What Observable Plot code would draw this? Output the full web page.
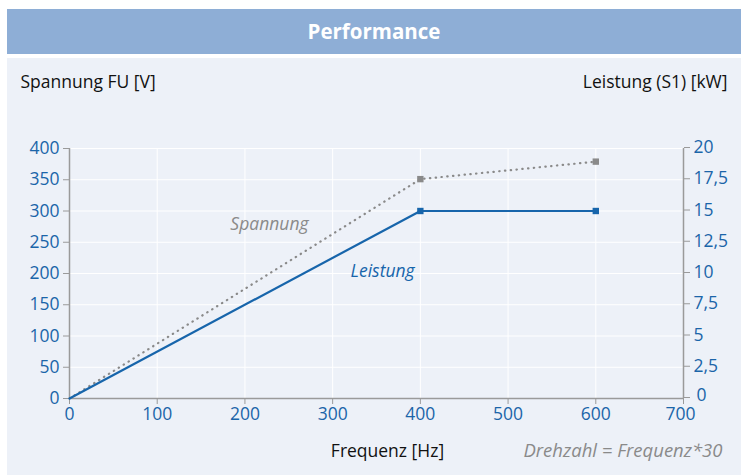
<!DOCTYPE html>
<html>
<head>
<meta charset="utf-8">
<script src="https://cdn.jsdelivr.net/npm/d3@7"></script>
<script src="https://cdn.jsdelivr.net/npm/@observablehq/plot@0.6"></script>
<style>
  html, body { margin: 0; padding: 0; background: #ffffff; width: 741px; height: 475px; overflow: hidden; }
  body { position: relative; font-family: "Open Sans", sans-serif; }
  #title { position: absolute; left: 7px; top: 9px; width: 734px; height: 45px; background: #8eaed6;
           color: #ffffff; font-weight: bold; font-size: 20.5px; line-height: 45px; text-align: center; }
  #panel { position: absolute; left: 7px; top: 58px; width: 734px; height: 417px; background: #edf1f8; }
  #panel svg { display: block; }
</style>
</head>
<body>
<div id="title">Performance</div>
<div id="panel"></div>
<script>
// Data
const frequenz = [0, 400, 600];            // Hz
const spannung = [0, 351, 379];            // V
const leistung = [0, 15, 15];              // kW (right axis)
const xTicks = [0, 100, 200, 300, 400, 500, 600, 700];
const yTicksV = [0, 50, 100, 150, 200, 250, 300, 350, 400];
const yTicksKW = [0, 2.5, 5, 7.5, 10, 12.5, 15, 17.5, 20];
const kwToV = 20; // 20 kW <-> 400 V on the shared vertical scale

const spannungData = frequenz.map((f, i) => ({f, v: spannung[i]}));
const leistungData = frequenz.map((f, i) => ({f, kw: leistung[i]}));
const markerIdx = [1, 2];

const BLUE = "#1765ab";
const GREY = "#8a8a8a";
const AXIS = "#9a9a9a";
const TICKTEXT = "#1b65a9";
const FONT = "Open Sans, sans-serif";
const lastX = xTicks[xTicks.length - 1];
const kwFmt = d => (d / kwToV).toLocaleString("de-DE");

const chart = Plot.plot({
  width: 734,
  height: 417,
  marginLeft: 62,
  marginRight: 58,
  marginTop: 90,
  marginBottom: 77,
  style: { background: "transparent", fontFamily: FONT, fontSize: "16px" },
  x: { domain: [0, 700] },
  y: { domain: [0, 400] },
  marks: [
    Plot.gridX(xTicks, { stroke: "#ffffff", strokeOpacity: 1, strokeWidth: 1 }),
    Plot.gridY(yTicksV, { stroke: "#ffffff", strokeOpacity: 1, strokeWidth: 1 }),
    Plot.ruleX([0, 700], { stroke: AXIS, strokeWidth: 1.5 }),
    Plot.ruleY([0], { stroke: AXIS, strokeWidth: 1.5 }),
    // bottom axis (last label drawn separately, nudged so it does not collide with the right-hand "0")
    Plot.axisX({ ticks: xTicks, tickSize: 6, tickPadding: 3, stroke: AXIS, fill: TICKTEXT, label: null, fontSize: 17.5,
                 tickFormat: d => d === lastX ? "" : String(d) }),
    Plot.axisX({ ticks: [lastX], tickSize: 0, tickPadding: 9, stroke: "none", fill: TICKTEXT, label: null, fontSize: 17.5, dx: -3 }),
    Plot.axisY({ anchor: "left", ticks: yTicksV, tickSize: 6, tickPadding: 4, stroke: AXIS, fill: TICKTEXT, label: null, fontSize: 17.5 }),
    Plot.axisY({ anchor: "right", ticks: yTicksKW.map(d => d * kwToV), tickSize: 6, tickPadding: 4, stroke: AXIS, fill: TICKTEXT, label: null, fontSize: 17.5, dy: -1,
                 tickFormat: d => d === 0 ? "" : kwFmt(d) }),
    Plot.axisY({ anchor: "right", ticks: [0], tickSize: 0, tickPadding: 10, stroke: "none", fill: TICKTEXT, label: null, fontSize: 17.5, dy: -3, dx: 3,
                 tickFormat: kwFmt }),
    // Spannung (dotted grey)
    Plot.line(spannungData, { x: "f", y: "v", stroke: GREY, strokeWidth: 2.2, strokeDasharray: "0.4,5.4", strokeLinecap: "round" }),
    Plot.dot(markerIdx.map(i => spannungData[i]), { x: "f", y: "v", symbol: "square", r: 3.6, fill: GREY, stroke: null }),
    // Leistung (solid blue)
    Plot.line(leistungData, { x: "f", y: d => d.kw * kwToV, stroke: BLUE, strokeWidth: 2.2 }),
    Plot.dot(markerIdx.map(i => leistungData[i]), { x: "f", y: d => d.kw * kwToV, symbol: "square", r: 3.6, fill: BLUE, stroke: null }),
    // inline series labels
    Plot.text(["Spannung"], { x: 228, y: 278, text: d => d, fill: GREY, fontStyle: "italic", fontSize: 17.5 }),
    Plot.text(["Leistung"], { x: 357, y: 203, text: d => d, fill: BLUE, fontStyle: "italic", fontSize: 17.5 }),
    // axis titles
    Plot.text(["Spannung FU [V]"], { frameAnchor: "top-left", dx: -49, dy: -66, textAnchor: "start", lineAnchor: "middle", fill: "#111", fontSize: 17.5 }),
    Plot.text(["Leistung (S1) [kW]"], { frameAnchor: "top-right", dx: 44, dy: -66, textAnchor: "end", lineAnchor: "middle", fill: "#111", fontSize: 17.5 }),
    Plot.text(["Frequenz [Hz]"], { frameAnchor: "bottom", dx: 11, dy: 53, lineAnchor: "middle", fill: "#111", fontSize: 17.5 }),
    Plot.text(["Drehzahl = Frequenz*30"], { frameAnchor: "bottom-right", dx: 39, dy: 53, textAnchor: "end", lineAnchor: "middle", fill: GREY, fontStyle: "italic", fontSize: 18.5 })
  ]
});
document.getElementById("panel").appendChild(chart);
</script>
</body>
</html>
